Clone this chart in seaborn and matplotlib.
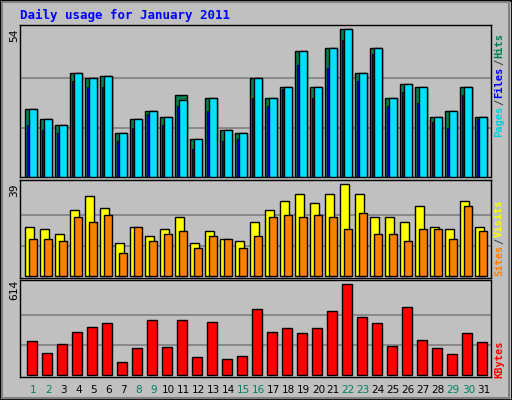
import numpy as np
import matplotlib
matplotlib.use("Agg")
import matplotlib.pyplot as plt
import seaborn as sns

days = list(range(1, 32))
hits = [25,21,19,38,36,37,16,21,24,22,30,14,29,17,16,36,29,33,46,33,47,54,38,47,29,34,33,22,24,33,22]
files = [25,21,19,38,36,37,16,21,24,22,28,14,29,17,16,36,29,33,46,33,47,54,38,47,29,34,33,22,24,33,22]
pages = [19,17,16,35,33,33,13,18,23,19,26,10,24,13,14,29,26,32,41,29,40,50,35,45,26,31,27,20,18,30,21]
visits = [21,20,18,28,34,29,14,21,17,20,25,14,19,16,15,23,28,32,35,31,35,39,35,25,25,23,30,21,20,32,21]
sites = [16,16,15,25,23,26,10,21,15,18,19,12,17,16,12,17,25,26,25,26,25,20,27,18,18,15,20,20,16,30,19]
kbytes = [229,148,209,290,324,351,88,182,371,189,371,121,358,108,128,445,290,317,283,317,432,614,391,351,196,459,236,182,142,283,223]
weekend = [1,2,8,9,15,16,22,23,29,30]

BG = "#C0C0C0"
sns.set_style("white")
plt.rcParams['font.family'] = ['DejaVu Sans Mono', 'DejaVu Sans']

fig = plt.figure(figsize=(5.12, 4.0), dpi=100, facecolor=BG)
L, W = 20/512, 470.7/512
def mkax(top, bot):
    ax = fig.add_axes([L, 1-bot/400, W, (bot-top)/400])
    ax.set_facecolor(BG)
    for s in ax.spines.values():
        s.set_color("black"); s.set_linewidth(1)
    return ax

d = np.array(days, dtype=float)
def bars(ax, off, vals, width, color, lw=1.0):
    sns.barplot(x=d+off, y=vals, native_scale=True, width=width, color=color,
                edgecolor="black", linewidth=lw, saturation=1, ax=ax, zorder=3)

ax1 = mkax(25, 177)
ax2 = mkax(180, 278)
ax3 = mkax(280, 377)

for ax, g in [(ax1, [18, 36]), (ax2, [13, 26]), (ax3, [205, 409])]:
    for v in g:
        ax.axhline(v, color="#808080", lw=1.2, zorder=1)

bars(ax1, -0.155, hits, 0.75, "#008050")
bars(ax1, -0.355, pages, 0.17, "#0000FF", lw=0.6)
bars(ax1, -0.025, files, 0.49, "#00E0FF")
bars(ax2, -0.25, visits, 0.56, "#FFFF00")
bars(ax2, -0.025, sites, 0.49, "#FF8000")
bars(ax3, -0.105, kbytes, 0.65, "#FF0000")

ax1.set_ylim(-0.1, 55.6)
ax2.set_ylim(-0.7, 40.8)
ax3.set_ylim(-11, 643)
for ax in (ax1, ax2, ax3):
    ax.set_xlim(0.11, 31.49)
    ax.set_yticks([]); ax.set_xticks([])
    ax.set_xlabel(""); ax.set_ylabel("")

for dd in days:
    ax3.text(dd, -0.13, str(dd), transform=ax3.get_xaxis_transform(), ha="center", va="center",
             fontsize=7.5, color="#008060" if dd in weekend else "black", family="DejaVu Sans")

fig.text(20/512, 1-15/400, "Daily usage for January 2011", color="#0000FF", fontsize=9,
         fontweight="bold", ha="left", va="center")
for y, s in [(35, "54"), (190, "39"), (290, "614")]:
    fig.text(14/512, 1-y/400, s, rotation=90, ha="center", va="center", fontsize=8, color="black")

fig.canvas.draw()
renderer = fig.canvas.get_renderer()
def rlabel(parts, ybot):
    y = ybot
    for txt, col in parts:
        t = fig.text(499/512, 1-y/400, txt, rotation=90, ha="center", va="bottom",
                     fontsize=7.5, color=col, fontweight="bold")
        ext = t.get_window_extent(renderer)
        y -= ext.height + 1
rlabel([("Pages", "#00D0E0"), ("/", "#404040"), ("Files", "#0000FF"), ("/", "#404040"), ("Hits", "#008050")], 137)
rlabel([("Sites", "#FF8000"), ("/", "#404040"), ("Visits", "#FFFF00")], 276)
rlabel([("KBytes", "#FF0000")], 378)

fig.add_artist(plt.Rectangle((0, 0), 1, 1, transform=fig.transFigure, fill=False, ec="black", lw=2))
fig.add_artist(plt.Rectangle((0.004, 0.006), 0.99, 0.988, transform=fig.transFigure, fill=False, ec="#808080", lw=1.5))
fig.savefig("out.png", dpi=100, facecolor=BG)
